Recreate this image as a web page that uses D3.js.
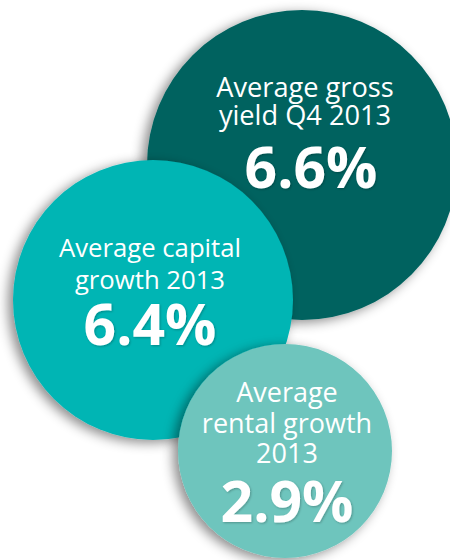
<!DOCTYPE html>
<html>
<head>
<meta charset="utf-8">
<script src="https://cdn.jsdelivr.net/npm/d3@7"></script>
<style>
  html, body { margin: 0; padding: 0; background: #fff; }
  svg { display: block; }
</style>
</head>
<body>
<svg id="chart" width="450" height="560"></svg>
<script>
// Headline figures, 2013
const metrics = ["Average gross yield Q4 2013", "Average capital growth 2013", "Average rental growth 2013"];
const labelLines = [
  ["Average gross", "yield Q4 2013"],
  ["Average capital", "growth 2013"],
  ["Average", "rental growth", "2013"]
];
const values = [6.6, 6.4, 2.9];

// Bubble layout (drawn back to front)
const layout = [
  { cx: 302, cy: 165, r: 155, tx: 305, nx: 311, top: 97,  step: 28, gap: 63, size: 27.2, color: "#03625f" },
  { cx: 153, cy: 300, r: 140, tx: 150, nx: 150, top: 257, step: 32, gap: 56, size: 25.7, color: "#00b5b4" },
  { cx: 285, cy: 451, r: 107, tx: 287, nx: 287, top: 402, step: 30.5, gap: 59, size: 27, color: "#6ec5bd" }
];

const svg = d3.select("#chart");
const defs = svg.append("defs");

const shadow = defs.append("filter")
  .attr("id", "bubble-shadow")
  .attr("x", "-30%").attr("y", "-30%")
  .attr("width", "160%").attr("height", "160%");
shadow.append("feDropShadow")
  .attr("dx", -5).attr("dy", 3)
  .attr("stdDeviation", 6)
  .attr("flood-color", "#000")
  .attr("flood-opacity", 0.45);

const textShadow = defs.append("filter").attr("id", "text-shadow");
textShadow.append("feDropShadow")
  .attr("dx", 1).attr("dy", 1)
  .attr("stdDeviation", 1)
  .attr("flood-color", "#000")
  .attr("flood-opacity", 0.25);

const fmt = d3.format(".1f");

const bubbles = svg.selectAll("g.bubble")
  .data(values.map((v, i) => ({ value: v, metric: metrics[i], lines: labelLines[i], pos: layout[i] })))
  .join("g")
  .attr("class", "bubble");

bubbles.append("circle")
  .attr("cx", d => d.pos.cx)
  .attr("cy", d => d.pos.cy)
  .attr("r", d => d.pos.r)
  .attr("fill", d => d.pos.color)
  .attr("filter", "url(#bubble-shadow)");

bubbles.append("title").text(d => `${d.metric}: ${fmt(d.value)}%`);

bubbles.each(function (d) {
  const g = d3.select(this);
  const label = g.append("text")
    .attr("text-anchor", "middle")
    .attr("fill", "#fff")
    .style("font-family", "'Open Sans', 'Noto Sans', sans-serif")
    .style("font-size", d.pos.size + "px")
    .style("font-weight", 400);
  d.lines.forEach((line, j) => {
    label.append("tspan")
      .attr("x", d.pos.tx)
      .attr("y", d.pos.top + j * d.pos.step)
      .text(line);
  });
  const lastBaseline = d.pos.top + (d.lines.length - 1) * d.pos.step;
  g.append("text")
    .attr("text-anchor", "middle")
    .attr("x", d.pos.nx)
    .attr("y", lastBaseline + d.pos.gap)
    .attr("fill", "#fff")
    .attr("filter", "url(#text-shadow)")
    .style("font-family", "'Open Sans', 'Noto Sans', sans-serif")
    .style("font-size", "57px")
    .style("font-weight", 700)
    .text(fmt(d.value) + "%");
});
</script>
</body>
</html>
